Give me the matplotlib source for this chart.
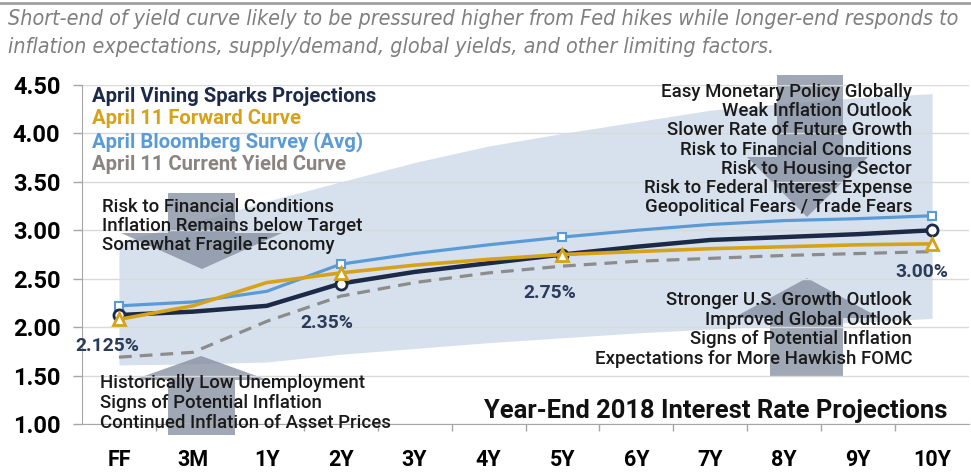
import matplotlib
matplotlib.use("Agg")
import matplotlib.pyplot as plt
from matplotlib.patches import Polygon
from matplotlib.lines import Line2D

# ====== DATA ======
tenors = ["FF", "3M", "1Y", "2Y", "3Y", "4Y", "5Y", "6Y", "7Y", "8Y", "9Y", "10Y"]
vining = [2.125, 2.16, 2.22, 2.45, 2.57, 2.66, 2.75, 2.83, 2.90, 2.93, 2.96, 3.00]
forward = [2.08, 2.22, 2.46, 2.56, 2.64, 2.70, 2.75, 2.78, 2.81, 2.83, 2.85, 2.86]
bloomberg = [2.22, 2.26, 2.37, 2.65, 2.76, 2.85, 2.93, 3.00, 3.06, 3.10, 3.12, 3.15]
current = [1.69, 1.74, 2.06, 2.32, 2.46, 2.56, 2.63, 2.68, 2.71, 2.74, 2.76, 2.78]
band_high = [2.88, 3.08, 3.30, 3.50, 3.70, 3.87, 4.00, 4.12, 4.24, 4.31, 4.37, 4.41]
band_low = [1.61, 1.62, 1.64, 1.72, 1.78, 1.84, 1.89, 1.94, 1.98, 2.02, 2.05, 2.09]
marked = [0, 3, 6, 11]
pct_labels = ["2.125%", "2.35%", "2.75%", "3.00%"]
y_ticks = [1.0, 1.5, 2.0, 2.5, 3.0, 3.5, 4.0, 4.5]

subtitle = ("Short-end of yield curve likely to be pressured higher from Fed hikes while longer-end responds to\n"
            "inflation expectations, supply/demand, global yields, and other limiting factors.")
down_left = ["Risk to Financial Conditions", "Inflation Remains below Target", "Somewhat Fragile Economy"]
up_left = ["Historically Low Unemployment", "Signs of Potential Inflation", "Continued Inflation of Asset Prices"]
down_right = ["Easy Monetary Policy Globally", "Weak Inflation Outlook", "Slower Rate of Future Growth",
              "Risk to Financial Conditions", "Risk to Housing Sector", "Risk to Federal Interest Expense",
              "Geopolitical Fears / Trade Fears"]
up_right = ["Stronger U.S. Growth Outlook", "Improved Global Outlook", "Signs of Potential Inflation",
            "Expectations for More Hawkish FOMC"]

NAVY = "#1c2a48"
GOLD = "#d6a21a"
LBLUE = "#5b9bd5"
GRAY = "#8c8c8c"
W, H = 971, 473
FONT = "Roboto"


def px(x, y):
    # pixel (top-left origin) -> figure fraction
    return x / W, 1 - y / H


fig = plt.figure(figsize=(W / 100, H / 100), dpi=100)
ax = fig.add_axes([82 / W, 1 - 424 / H, (969 - 82) / W, (424 - 85) / H])
x = list(range(len(tenors)))

# shaded range of projections
ax.fill_between(x, band_low, band_high, color="#d7e1ee", lw=0, zorder=1)

# arrows (figure pixel outlines)
arrow_shapes = [
    [(168, 193), (235, 193), (235, 233), (282, 233), (202, 269), (121, 233), (168, 233)],
    [(168, 435), (235, 435), (235, 380), (268, 380), (201, 356), (133, 380), (168, 380)],
    [(777, 75), (843, 75), (843, 157), (868, 157), (807, 217), (747, 157), (777, 157)],
    [(770, 377), (843, 377), (843, 318), (880, 318), (807, 278), (733, 318), (770, 318)],
]
for shape in arrow_shapes:
    ax.add_patch(Polygon([px(a, b) for a, b in shape], closed=True, transform=fig.transFigure,
                         facecolor="#7d8799", alpha=0.72, lw=0, zorder=1.2, clip_on=False))

ax.set_axisbelow("line")
ax.yaxis.grid(True, color="#d9d9d9", lw=1)

ax.plot(x, current, color=GRAY, lw=2.3, ls=(0, (4, 2.5)), zorder=3)
ax.plot(x, bloomberg, color=LBLUE, lw=2.3, marker="s", markevery=marked, ms=6,
        mfc="white", mec=LBLUE, mew=1.5, zorder=4)
ax.plot(x, vining, color=NAVY, lw=3.2, marker="o", markevery=marked, ms=8,
        mfc="white", mec=NAVY, mew=2, zorder=5)
ax.plot(x, forward, color=GOLD, lw=2.6, marker="^", markevery=marked, ms=8,
        mfc="white", mec=GOLD, mew=2, zorder=6)

# percent labels for the Vining projections
offsets = [(-8, -22), (-10, -28.5), (-9, -28), (-7, -30)]
for i, lab, off in zip(marked, pct_labels, offsets):
    ax.annotate(lab, (i, vining[i]), xytext=off, textcoords="offset points", ha="center", va="center",
                fontsize=13.9, fontweight="bold", color="#2b3b5a", family=FONT, zorder=7)

ax.set_xlim(-0.5, len(tenors) - 0.5)
ax.set_ylim(1.0, 4.5)
ax.set_yticks(y_ticks)
ax.set_yticklabels([f"{v:.2f}" for v in y_ticks], fontsize=17, fontweight="bold", family=FONT)
ax.set_xticks(x)
ax.set_xticklabels(tenors, fontsize=15.5, fontweight="bold", family=FONT)
ax.set_xticks([i + 0.5 for i in x[:-1]], minor=True)
ax.tick_params(axis="x", which="major", length=0, pad=18)
ax.tick_params(axis="x", which="minor", length=5, color="#a6a6a6", width=1)
ax.tick_params(axis="y", length=6.5, color="#a6a6a6", width=1, pad=9)
for side in ["top", "right"]:
    ax.spines[side].set_visible(False)
for side in ["left", "bottom"]:
    ax.spines[side].set_color("#a6a6a6")

# legend as coloured text
for txt, col, yy in zip(["April Vining Sparks Projections", "April 11 Forward Curve",
                         "April Bloomberg Survey (Avg)", "April 11 Current Yield Curve"],
                        [NAVY, GOLD, LBLUE, "#8a8480"], [96, 119, 142, 164]):
    fig.text(*px(92, yy), txt, color=col, fontsize=14.6, fontweight="bold", family=FONT, va="center")

# driver notes
for lines, x0, y0, step, ha in [(down_left, 102, 207, 19, "left"), (up_left, 100, 383, 20, "left"),
                                 (down_right, 912, 92, 19.2, "right"), (up_right, 912, 300, 19.7, "right")]:
    for k, t in enumerate(lines):
        fig.text(*px(x0, y0 + k * step), t, fontsize=13.4, fontweight="medium", family=FONT,
                 color="#1a1a1a", ha=ha, va="center")

fig.text(*px(947, 411), "Year-End 2018 Interest Rate Projections", fontsize=18.4, fontweight="bold",
         family=FONT, color="#111111", ha="right", va="center")

fig.text(*px(8, 33), subtitle, fontsize=15.4, style="italic", color="#7f7f7f",
         family=["DejaVu Sans"], stretch="condensed", va="center", linespacing=1.45)
fig.add_artist(Line2D([0, 1], [1 - 3 / H, 1 - 3 / H], color="#a0a0a0", lw=2, transform=fig.transFigure))

fig.savefig("out.png", dpi=100)
